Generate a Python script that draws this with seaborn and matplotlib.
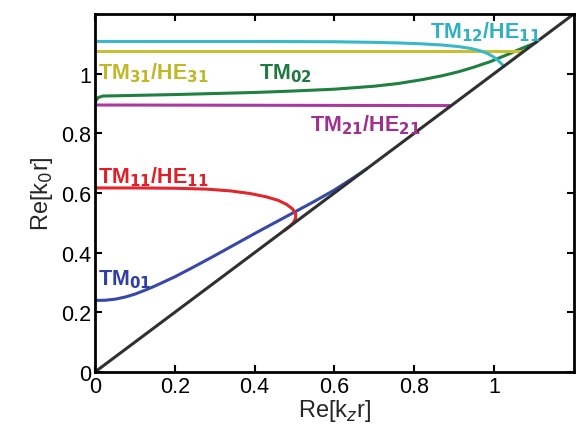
import matplotlib
matplotlib.use("Agg")
import matplotlib.pyplot as plt
import seaborn as sns
import pandas as pd

# ---- data ----
tm01_x = [0, 0.025, 0.05, 0.075, 0.1, 0.125, 0.15, 0.2, 0.25, 0.3, 0.35, 0.4, 0.45, 0.5, 0.55, 0.6, 0.65, 0.68]
tm01_y = [0.24, 0.2405, 0.244, 0.251, 0.261, 0.274, 0.288, 0.319, 0.354, 0.39, 0.427, 0.464, 0.5, 0.536, 0.572, 0.61, 0.653, 0.68]

tm11_x = [0, 0.1, 0.2, 0.28, 0.34, 0.39, 0.43, 0.46, 0.48, 0.495, 0.503, 0.503, 0.497, 0.488, 0.475]
tm11_y = [0.617, 0.617, 0.616, 0.613, 0.607, 0.598, 0.587, 0.575, 0.562, 0.547, 0.53, 0.515, 0.5, 0.488, 0.475]

tm21_x = [0, 0.89]
tm21_y = [0.895, 0.893]

tm02_x = [0, 0.008, 0.02, 0.2, 0.4, 0.5, 0.6, 0.7, 0.76, 0.82, 0.87, 0.91, 0.95, 0.99, 1.03, 1.07, 1.105]
tm02_y = [0.905, 0.92, 0.925, 0.93, 0.937, 0.942, 0.948, 0.958, 0.967, 0.98, 0.993, 1.006, 1.022, 1.04, 1.062, 1.085, 1.104]

tm31_x = [0, 1.07]
tm31_y = [1.077, 1.077]

tm12_x = [0, 0.4, 0.6, 0.7, 0.76, 0.82, 0.87, 0.91, 0.94, 0.965, 0.985, 1.0, 1.012, 1.025]
tm12_y = [1.108, 1.108, 1.107, 1.105, 1.103, 1.1, 1.096, 1.091, 1.085, 1.077, 1.067, 1.055, 1.042, 1.025]

light_x = [0, 1.2]
light_y = [0, 1.2]

modes = ["TM01", "TM11", "TM21", "TM02", "TM31", "TM12", "light"]
xs = [tm01_x, tm11_x, tm21_x, tm02_x, tm31_x, tm12_x, light_x]
ys = [tm01_y, tm11_y, tm21_y, tm02_y, tm31_y, tm12_y, light_y]
colors = {"TM01": "#3848a8", "TM11": "#e3262e", "TM21": "#a83aa0",
          "TM02": "#1f8040", "TM31": "#c8c030", "TM12": "#38b8c8",
          "light": "#303030"}

rows = []
for m, xv, yv in zip(modes, xs, ys):
    for i, (a, b) in enumerate(zip(xv, yv)):
        rows.append({"mode": m, "x": a, "y": b, "order": i})
df = pd.DataFrame(rows)

sns.set_style("ticks")
plt.rcParams['font.family'] = ['Liberation Sans', 'DejaVu Sans']

fig = plt.figure(figsize=(5.79, 4.35), dpi=100)
ax = fig.add_axes([0.164, 0.1425, 0.827, 0.823])

for m in modes:
    sub = df[df["mode"] == m]
    sns.lineplot(data=sub, x="x", y="y", sort=False, estimator=None,
                 color=colors[m], lw=2.2, ax=ax)

ax.set_xlim(0, 1.2)
ax.set_ylim(0, 1.2)
ax.set_xticks([0, 0.2, 0.4, 0.6, 0.8, 1])
ax.set_yticks([0, 0.2, 0.4, 0.6, 0.8, 1])
ax.set_xticklabels(["0", "0.2", "0.4", "0.6", "0.8", "1"])
ax.set_yticklabels(["0", "0.2", "0.4", "0.6", "0.8", "1"])
ax.tick_params(direction="in", top=True, right=True, labelsize=15.5,
               length=5, width=1.5, colors="black", pad=3)
for s in ax.spines.values():
    s.set_linewidth(2)
    s.set_color("black")
    s.set_visible(True)

ax.set_xlabel("Re[k$_z$r]", fontsize=17, labelpad=0)
ax.set_ylabel("Re[k$_0$r]", fontsize=17, labelpad=4)

fs = 15.5
kw = dict(fontsize=fs, fontweight="bold")
ax.text(0.008, 0.295, "TM$_{\\mathbf{01}}$", color="#3040a0", **kw)
ax.text(0.008, 0.635, "TM$_{\\mathbf{11}}$/HE$_{\\mathbf{11}}$", color="#e02028", **kw)
ax.text(0.54, 0.81, "TM$_{\\mathbf{21}}$/HE$_{\\mathbf{21}}$", color="#a03090", **kw)
ax.text(0.41, 0.985, "TM$_{\\mathbf{02}}$", color="#1f7a40", **kw)
ax.text(0.008, 0.985, "TM$_{\\mathbf{31}}$/HE$_{\\mathbf{31}}$", color="#c0b828", **kw)
ax.text(0.84, 1.12, "TM$_{\\mathbf{12}}$/HE$_{\\mathbf{11}}$", color="#30b0c0", **kw)

fig.savefig("out.png", dpi=100)
